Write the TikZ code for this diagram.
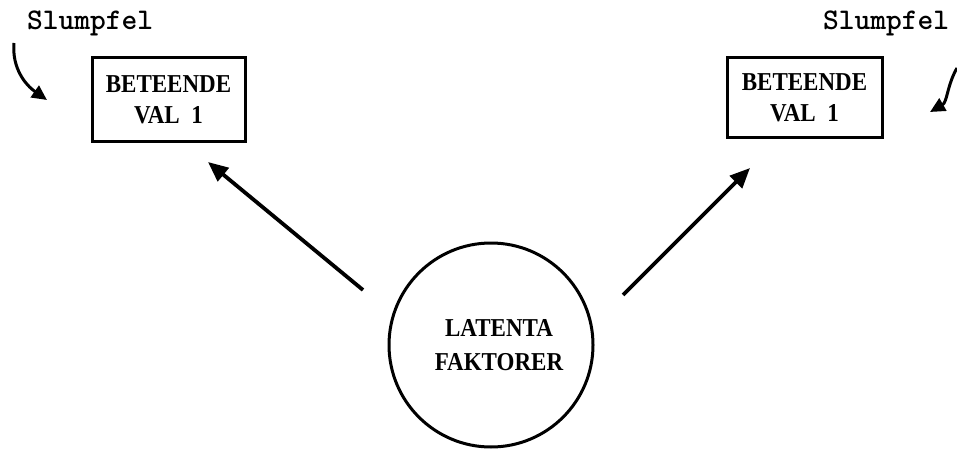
\documentclass[tikz,border=0pt]{standalone}
\usepackage{fontspec}
\usepackage{graphicx}
\setmainfont{Liberation Serif}
\usetikzlibrary{arrows.meta}
\newcommand{\tallbox}[1]{\scalebox{1}[1.12]{#1}}
\begin{document}
\begin{tikzpicture}[x=1pt,y=-1pt,
  boxnode/.style={draw,line width=3pt,minimum width=153pt,minimum height=84pt,inner sep=0pt,align=center,font=\bfseries\fontsize{23}{31}\selectfont},
  errlabel/.style={anchor=base west,inner sep=0pt,font=\ttfamily\bfseries\fontsize{30}{30}\selectfont},
  bigarrow/.style={line width=3.8pt,-{Triangle[length=20pt,width=17pt]}},
  curvearrow/.style={line width=3pt,-{Triangle[length=15pt,width=14pt]}}]
\useasboundingbox (0,0) rectangle (957,457);
\node[boxnode] (b1) at (168.5,100) {\tallbox{BETEENDE}\\\tallbox{VAL\ \ 1}};
\node[boxnode,minimum width=155pt,minimum height=80pt] (b2) at (804.5,98) {\tallbox{BETEENDE}\\\tallbox{VAL\ \ 1}};
\node[draw,circle,line width=3pt,minimum size=204pt,inner sep=0pt,align=center,font=\bfseries\fontsize{23}{34}\selectfont] (lat) at (491,345) {\hspace*{16pt}\tallbox{LATENTA}\\\hspace*{16pt}\tallbox{FAKTORER}};
\node[errlabel] (s1) at (27,30) {Slumpfel};
\node[errlabel] (s2) at (823,30) {Slumpfel};
\coordinate (c1s) at (14,43);
\coordinate (c1e) at (47,100);
\coordinate (c2s) at (957,68);
\coordinate (c2e) at (930,112);
\coordinate (a1s) at (363,290);
\coordinate (a1e) at (208,162);
\coordinate (a2s) at (623,295);
\coordinate (a2e) at (750,168);
\draw[bigarrow] (a1s) -- (a1e);
\draw[bigarrow] (a2s) -- (a2e);
\draw[curvearrow] (c1s) to[out=-95,in=145] (c1e);
\draw[curvearrow] (c2s) to[out=-120,in=30] (c2e);
\end{tikzpicture}
\end{document}
